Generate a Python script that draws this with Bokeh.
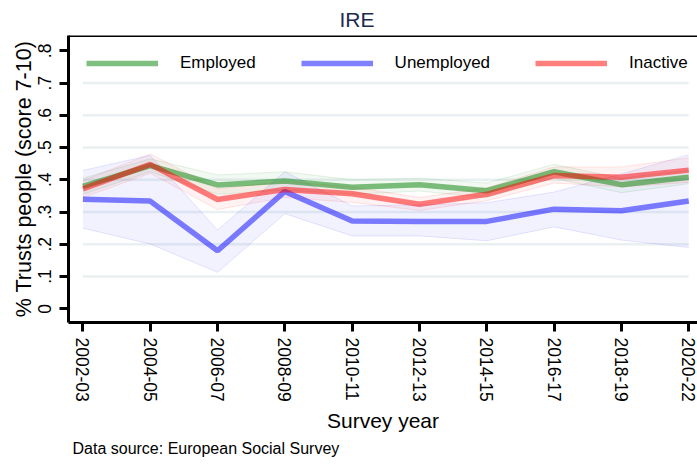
from bokeh.plotting import figure
from bokeh.models import FixedTicker, Range1d, Legend, LegendItem, Title, Span
from bokeh.embed import file_html
from bokeh.resources import INLINE

years = ["2002-03", "2004-05", "2006-07", "2008-09", "2010-11",
         "2012-13", "2014-15", "2016-17", "2018-19", "2020-22"]
x_pos = list(range(len(years)))

employed = [0.380, 0.444, 0.384, 0.396, 0.377, 0.385, 0.366, 0.425, 0.385, 0.408]
employed_lo = [0.355, 0.425, 0.355, 0.368, 0.355, 0.365, 0.345, 0.405, 0.360, 0.388]
employed_hi = [0.405, 0.465, 0.415, 0.425, 0.400, 0.405, 0.390, 0.448, 0.405, 0.430]

unemployed = [0.340, 0.334, 0.180, 0.364, 0.272, 0.271, 0.271, 0.309, 0.304, 0.334]
unemployed_lo = [0.250, 0.201, 0.113, 0.295, 0.226, 0.226, 0.211, 0.254, 0.213, 0.190]
unemployed_hi = [0.429, 0.476, 0.244, 0.425, 0.319, 0.322, 0.329, 0.362, 0.418, 0.478]

inactive = [0.372, 0.448, 0.339, 0.370, 0.357, 0.324, 0.355, 0.413, 0.408, 0.430]
inactive_lo = [0.345, 0.420, 0.308, 0.345, 0.330, 0.305, 0.335, 0.390, 0.378, 0.392]
inactive_hi = [0.398, 0.480, 0.372, 0.395, 0.378, 0.345, 0.375, 0.440, 0.440, 0.468]

y_ticks = [0.0, 0.1, 0.2, 0.3, 0.4, 0.5, 0.6, 0.7, 0.8]
y_labels = ["0", ".1", ".2", ".3", ".4", ".5", ".6", ".7", ".8"]

FONT = "Liberation Sans"

p = figure(width=697, height=465,
           x_range=Range1d(-0.214, 9.13), y_range=Range1d(-0.0425, 0.8475),
           output_backend="svg", toolbar_location=None,
           min_border_left=68, min_border_right=0, min_border_top=34,
           min_border_bottom=143)

p.title.text = "IRE"
p.title.align = "left"
p.title.offset = 271
p.title.text_font = FONT
p.title.text_font_size = "21px"
p.title.text_font_style = "normal"
p.title.text_color = "#1c2b4f"
p.title.text_line_height = 0.8
p.title.standoff = 10

p.outline_line_color = None
p.background_fill_color = "white"
p.border_fill_color = "white"
p.xgrid.grid_line_color = None
p.ygrid.grid_line_color = None

# grid lines between the first and last category
grid_y = y_ticks[1:-1]
p.segment(x0=[x_pos[0]] * len(grid_y), x1=[x_pos[-1]] * len(grid_y),
          y0=grid_y, y1=grid_y, line_color="#e8f0f1", line_width=2.5)

series = [
    ("Employed", employed, employed_lo, employed_hi, "#008000"),
    ("Unemployed", unemployed, unemployed_lo, unemployed_hi, "#0000ff"),
    ("Inactive", inactive, inactive_lo, inactive_hi, "#ff0000"),
]

for name, vals, lo, hi, col in series:
    p.varea(x=x_pos, y1=lo, y2=hi, fill_color=col, fill_alpha=0.05)
    p.line(x_pos, lo, line_color=col, line_alpha=0.1, line_width=1)
    p.line(x_pos, hi, line_color=col, line_alpha=0.1, line_width=1)

items = []
for name, vals, lo, hi, col in series:
    r = p.line(x_pos, vals, line_color=col, line_alpha=0.5, line_width=5.5)
    items.append(LegendItem(label=name, renderers=[r]))

legend = Legend(items=items, orientation="horizontal", location=(18, 249),
                padding=0, margin=0, spacing=45, glyph_width=72,
                glyph_height=20, label_standoff=22,
                label_text_font=FONT, label_text_font_size="17px",
                label_text_color="black",
                border_line_color=None, background_fill_alpha=0)
p.add_layout(legend, "center")

# top border of plot region
p.add_layout(Span(location=p.y_range.end, dimension="width",
                  line_color="black", line_width=3))

# y axis
ya = p.yaxis[0]
ya.ticker = FixedTicker(ticks=y_ticks)
ya.major_label_overrides = {t: l for t, l in zip(y_ticks, y_labels)}
ya.major_label_orientation = "vertical"
ya.major_label_text_font = FONT
ya.major_label_text_font_size = "17.5px"
ya.major_label_text_color = "black"
ya.major_label_standoff = 8
ya.axis_label = "% Trusts people (score 7-10)"
ya.axis_label_text_font = FONT
ya.axis_label_text_font_size = "21.5px"
ya.axis_label_text_font_style = "normal"
ya.axis_label_text_color = "black"
ya.axis_label_standoff = 0
ya.axis_line_width = 3
ya.axis_line_color = "black"
ya.major_tick_line_width = 3
ya.major_tick_out = 9
ya.major_tick_in = 0
ya.minor_tick_line_color = None

# x axis
xa = p.xaxis[0]
xa.ticker = FixedTicker(ticks=x_pos)
xa.major_label_overrides = {i: y for i, y in zip(x_pos, years)}
xa.major_label_orientation = "vertical"
xa.major_label_text_font = FONT
xa.major_label_text_font_size = "17.5px"
xa.major_label_text_color = "black"
xa.major_label_standoff = 6
xa.axis_label = "Survey year"
xa.axis_label_text_font = FONT
xa.axis_label_text_font_size = "21px"
xa.axis_label_text_font_style = "normal"
xa.axis_label_text_color = "black"
xa.axis_label_standoff = 4
xa.axis_line_width = 3
xa.axis_line_color = "black"
xa.major_tick_line_width = 3
xa.major_tick_out = 9
xa.major_tick_in = 0
xa.minor_tick_line_color = None

p.add_layout(Title(text="Data source: European Social Survey", align="left",
                   offset=4, text_font=FONT, text_font_size="16px",
                   text_font_style="normal", text_color="black",
                   standoff=6), "below")

open("out.html", "w").write(file_html(p, INLINE))
